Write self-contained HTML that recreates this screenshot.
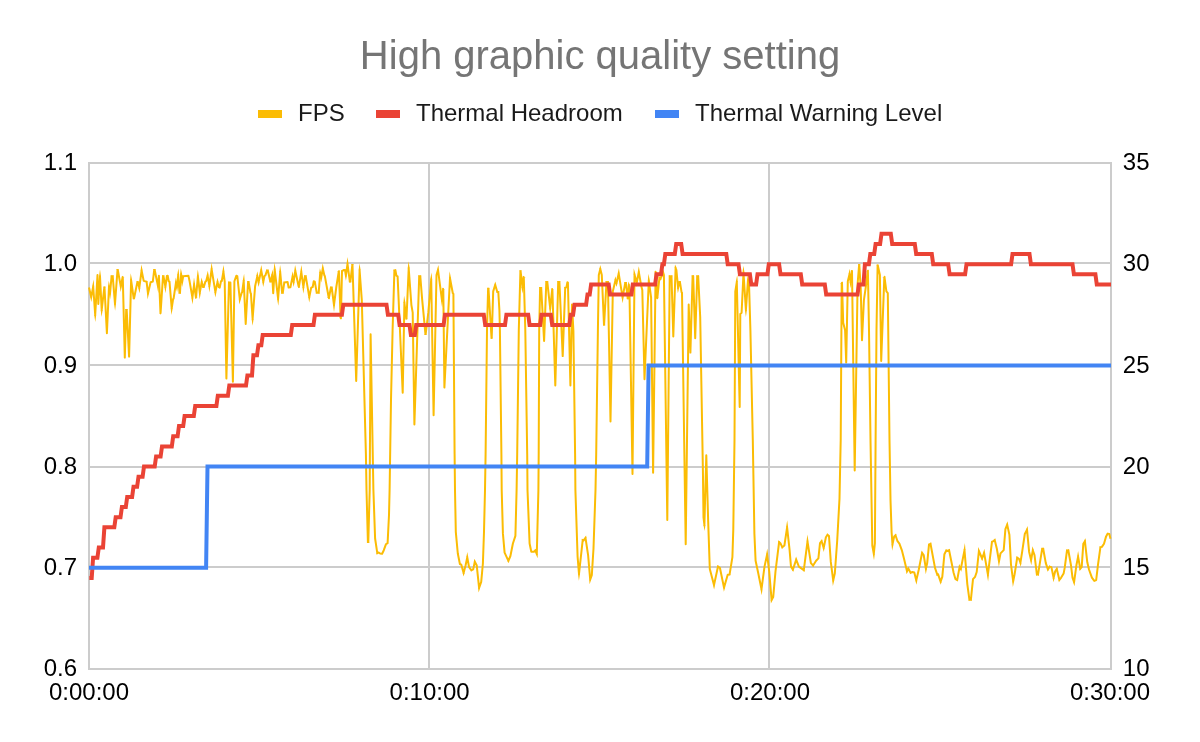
<!DOCTYPE html>
<html><head><meta charset="utf-8"><title>High graphic quality setting</title>
<style>
html,body{margin:0;padding:0;background:#ffffff;}
body{width:1200px;height:742px;overflow:hidden;font-family:"Liberation Sans",sans-serif;}
svg{display:block;}
text{font-family:"Liberation Sans",sans-serif;}
.t{filter:grayscale(1);}
.ax{font-size:24px;fill:#000000;}
.lg{font-size:24px;fill:#1a1a1a;}
</style></head>
<body>
<svg width="1200" height="742" viewBox="0 0 1200 742">
<rect x="0" y="0" width="1200" height="742" fill="#ffffff"/>
<g class="t">
<text x="600" y="68.8" text-anchor="middle" font-size="40" fill="#757575">High graphic quality setting</text>
<text class="lg" x="298" y="121">FPS</text>
<text class="lg" x="416" y="121">Thermal Headroom</text>
<text class="lg" x="695" y="121">Thermal Warning Level</text>
</g>
<!-- legend swatches -->
<rect x="258" y="110" width="24" height="8" fill="#fbbc04"/>
<rect x="376" y="110" width="24" height="8" fill="#ea4335"/>
<rect x="655" y="110" width="24" height="8" fill="#4285f4"/>
<!-- gridlines -->
<g fill="#cccccc" shape-rendering="crispEdges">
<rect x="88" y="162" width="1024" height="2"/>
<rect x="88" y="262" width="1024" height="2"/>
<rect x="88" y="364" width="1024" height="2"/>
<rect x="88" y="466" width="1024" height="2"/>
<rect x="88" y="566" width="1024" height="2"/>
<rect x="88" y="668" width="1024" height="2"/>
<rect x="88" y="162" width="2" height="508"/>
<rect x="428" y="162" width="2" height="508"/>
<rect x="768" y="162" width="2" height="508"/>
<rect x="1110" y="162" width="2" height="508"/>
</g>
<!-- series -->
<g fill="none" stroke-linejoin="miter" stroke-linecap="butt">
<polyline stroke="#fbbc04" stroke-width="2" stroke-linejoin="round" points="89.0,287.6 91.2,297.1 93.2,286.5 95.2,315.0 97.5,275.1 98.3,303.9 100.0,276.4 101.7,310.0 104.3,287.5 104.5,287.5 106.9,333.3 109.0,286.5 110.0,293.6 111.6,276.2 112.7,276.2 115.0,303.8 117.5,270.0 117.8,270.0 120.8,286.6 122.6,277.2 122.8,277.7 124.8,357.6 126.2,310.1 126.7,310.1 129.1,356.6 131.1,280.2 133.7,298.3 134.1,298.3 137.4,281.9 137.8,281.9 139.3,287.8 141.6,270.5 143.7,280.9 146.6,281.7 148.0,293.6 150.6,282.3 152.8,281.6 154.2,270.0 154.7,270.0 158.0,286.2 158.9,275.7 160.5,313.2 160.6,312.6 163.0,276.2 163.5,276.2 165.4,286.8 166.9,276.0 167.7,275.7 168.7,281.3 169.5,281.7 171.7,308.3 173.1,299.1 173.6,298.7 176.0,282.4 176.9,287.2 178.2,275.2 179.5,292.7 180.0,292.7 181.1,274.2 182.2,281.8 183.2,276.2 188.4,275.7 189.6,281.3 192.4,297.7 194.1,284.6 195.9,297.4 196.1,296.8 197.9,276.4 199.8,292.7 201.7,282.0 203.2,287.1 203.7,287.1 205.4,281.6 206.2,281.1 207.6,275.5 209.4,285.9 211.6,269.2 215.4,292.1 217.5,282.0 218.9,287.2 219.7,287.6 221.0,281.3 221.8,281.0 223.4,271.6 224.7,281.3 226.4,378.6 229.0,282.5 230.4,282.6 232.9,381.7 234.4,281.3 236.3,275.7 237.3,276.1 239.8,299.3 241.7,292.8 242.1,292.4 243.7,280.8 245.7,323.9 248.1,281.9 248.6,281.9 250.5,293.0 250.9,293.4 252.6,318.8 255.1,286.3 257.3,276.1 258.6,282.2 261.2,270.2 263.3,281.7 264.5,276.0 265.4,275.4 267.0,270.6 267.8,270.6 270.3,281.4 270.9,281.4 272.2,275.0 273.2,293.2 274.7,269.6 278.1,298.7 280.2,272.1 282.1,292.7 282.8,292.7 284.3,282.4 287.6,282.0 288.6,287.6 290.4,287.2 292.6,276.4 293.6,281.9 295.3,270.7 298.6,286.2 298.9,286.8 301.3,271.8 303.4,286.9 305.0,276.2 305.7,276.2 309.3,297.1 311.2,287.6 312.7,287.0 313.7,281.3 314.8,281.7 316.7,292.7 318.7,292.7 320.2,273.0 321.2,277.8 322.8,268.4 324.4,275.5 324.8,275.9 328.7,297.5 328.9,298.0 330.9,287.5 331.7,287.5 334.0,305.0 336.3,287.0 338.7,272.0 338.9,271.5 340.6,317.6 340.9,318.2 342.0,271.0 342.8,270.7 343.6,269.9 345.0,270.1 345.9,275.6 347.5,263.9 349.8,281.4 350.4,281.4 352.3,265.0 352.5,265.0 356.2,381.0 359.6,270.2 361.8,300.0 365.9,454.0 366.5,490.0 367.9,542.0 368.3,542.0 369.7,490.0 370.6,334.2 373.4,490.0 375.1,538.5 377.3,553.1 378.4,552.4 380.1,553.5 382.1,553.8 383.8,550.2 385.9,544.3 387.6,543.1 389.0,515.0 389.6,490.0 391.0,400.0 392.6,330.0 394.4,270.4 395.4,270.1 396.4,275.7 397.6,276.3 402.7,392.7 404.4,302.8 406.3,318.4 406.5,318.4 408.7,268.3 411.4,305.1 412.7,312.7 414.4,424.4 419.2,276.3 420.3,276.3 422.1,298.9 423.9,317.7 425.4,334.0 425.7,334.0 428.3,312.7 431.2,279.6 433.6,415.2 436.5,275.1 438.0,269.9 442.0,300.6 443.1,289.1 443.3,289.6 444.4,387.6 450.0,278.3 452.8,293.2 453.4,293.9 454.6,454.0 455.0,490.0 455.8,531.8 457.8,553.5 459.9,564.0 461.3,564.7 463.6,572.9 465.6,565.2 467.3,557.3 469.0,566.9 471.3,570.3 473.2,569.4 474.8,561.7 476.7,565.2 479.1,587.9 481.2,581.9 482.9,563.5 484.0,531.8 485.0,490.0 485.6,454.0 487.0,330.0 488.1,288.8 488.5,288.8 491.5,337.8 491.7,337.7 493.2,291.4 495.2,284.8 497.3,292.0 498.3,292.0 499.4,310.2 499.9,330.0 501.4,454.0 501.7,490.0 502.9,533.4 504.6,552.7 508.4,560.8 510.4,556.0 512.9,543.5 515.4,535.9 516.6,490.0 517.2,454.0 518.8,330.0 520.4,271.2 520.6,271.2 522.4,287.0 523.6,277.2 523.8,277.7 525.3,330.0 527.2,454.0 527.5,490.0 529.6,543.5 531.3,551.8 533.8,551.8 535.3,550.4 536.8,554.0 538.4,490.0 538.7,454.0 539.2,330.0 540.1,287.9 541.2,287.9 544.1,340.9 546.3,281.9 547.3,281.9 550.2,308.3 552.2,289.3 552.4,289.8 555.3,385.4 558.2,281.9 559.4,281.9 562.7,356.1 565.2,287.7 566.4,287.4 567.4,282.3 567.9,282.6 570.4,385.4 572.0,304.5 573.4,330.8 575.1,454.0 575.4,490.0 577.6,556.8 579.0,573.8 582.7,540.1 583.6,540.4 585.5,537.9 588.1,555.2 590.2,579.6 591.8,575.2 593.5,548.5 595.5,490.0 596.2,454.0 597.9,330.0 598.8,275.1 600.3,269.1 601.8,275.1 604.0,324.6 604.1,324.6 606.5,281.9 607.9,281.9 610.5,421.4 612.8,291.4 615.5,280.1 616.5,283.2 618.7,273.4 621.0,287.6 622.6,297.4 625.2,283.1 625.9,283.1 627.7,298.3 628.0,298.3 628.8,285.1 629.4,287.6 632.5,474.1 634.5,274.5 636.8,282.5 638.8,271.9 641.3,286.3 642.3,290.1 644.5,379.3 648.8,280.7 650.1,290.1 651.1,297.6 653.1,472.8 655.6,272.1 655.9,272.6 657.3,298.0 657.4,297.5 659.4,277.9 660.5,278.9 662.0,275.1 663.1,272.4 663.9,275.1 667.3,520.0 669.7,276.3 671.5,276.3 673.3,336.5 675.6,268.0 676.4,270.1 678.1,287.9 679.3,281.9 679.9,281.9 681.6,292.4 682.0,292.8 685.7,544.3 688.7,304.5 690.4,352.6 692.6,276.3 693.2,276.3 695.2,338.3 697.2,276.3 698.2,276.3 700.2,317.0 702.9,470.0 703.5,517.4 704.4,524.9 706.3,455.2 708.2,522.1 709.8,569.0 714.0,585.1 718.0,566.5 719.9,567.8 724.0,587.6 727.7,574.8 729.6,574.4 732.4,557.2 733.3,529.1 734.5,440.0 735.3,291.4 736.8,282.0 739.7,406.9 740.3,313.9 741.6,312.7 743.5,272.7 745.9,310.0 748.0,279.9 749.1,286.3 750.4,330.0 752.8,440.0 754.4,533.8 755.6,560.8 758.1,572.5 761.5,589.2 764.5,566.6 767.1,554.4 769.2,571.3 771.6,600.0 773.2,597.1 775.5,571.3 779.1,542.1 780.4,543.2 782.3,547.3 784.4,545.5 787.1,527.3 789.6,550.2 791.0,566.6 792.9,569.6 796.2,559.6 798.9,566.6 803.8,570.1 807.5,541.4 810.9,563.1 813.1,565.5 816.1,560.8 818.4,558.4 820.0,543.2 821.6,541.2 823.7,547.9 825.9,537.3 827.5,534.8 829.0,536.1 830.8,561.9 833.2,580.4 834.8,573.6 837.2,540.8 839.5,498.6 840.7,440.0 841.7,283.5 842.0,282.9 843.2,322.7 845.1,330.2 846.2,362.6 847.8,281.3 849.5,274.2 850.6,282.0 851.8,271.2 852.0,271.3 854.7,470.5 857.6,283.8 859.1,265.0 859.3,265.0 860.7,287.6 862.0,340.2 863.9,300.1 865.7,287.6 867.7,271.4 867.9,270.9 869.0,330.0 870.5,440.0 872.3,545.5 873.8,553.8 874.9,543.2 875.6,440.0 876.5,330.0 877.6,265.6 877.8,265.5 879.9,275.0 881.2,360.9 884.3,277.7 884.5,277.2 886.4,291.4 887.8,293.2 889.5,440.0 890.5,500.0 891.6,532.3 892.5,544.4 894.2,536.4 895.5,535.2 897.5,541.2 899.4,543.7 901.8,550.1 903.9,558.2 907.0,571.3 908.3,568.6 910.6,572.8 912.3,572.0 914.3,572.5 916.3,580.4 918.8,569.5 922.1,552.8 923.7,555.0 925.9,568.9 927.2,563.1 929.0,544.5 930.5,543.8 935.0,567.9 937.3,574.7 938.2,574.6 940.6,581.6 942.3,576.8 944.4,554.2 946.3,550.5 947.6,551.0 949.1,550.2 953.6,572.8 955.5,579.2 957.2,580.0 959.6,566.9 960.8,569.0 964.5,550.1 967.3,584.1 969.4,599.7 970.9,599.7 973.0,579.2 975.1,576.8 976.7,572.0 978.9,551.0 982.1,558.5 984.1,552.8 987.9,574.7 992.0,541.6 993.2,541.2 994.7,540.0 996.8,548.5 999.0,561.3 1000.5,553.4 1003.7,550.1 1005.4,529.1 1007.2,524.6 1009.4,534.8 1011.0,564.7 1013.2,581.3 1014.6,574.4 1017.2,557.7 1019.1,559.0 1020.4,562.8 1022.3,550.9 1024.8,534.0 1027.0,529.6 1029.1,551.7 1031.1,560.2 1032.8,550.3 1034.5,555.0 1036.9,574.6 1038.0,574.6 1042.2,548.7 1043.2,548.7 1045.8,563.1 1047.9,569.4 1049.7,566.6 1051.4,567.1 1053.6,577.7 1055.2,571.2 1056.8,568.9 1059.4,579.9 1061.2,577.6 1063.6,573.6 1064.7,567.9 1067.0,550.4 1068.3,550.3 1070.9,564.7 1072.5,577.6 1074.1,582.1 1076.5,564.7 1078.1,556.6 1080.2,568.7 1081.7,567.1 1083.3,543.7 1084.9,541.2 1087.3,562.3 1089.0,569.5 1091.9,577.6 1094.3,580.9 1096.2,580.0 1098.0,564.7 1100.4,547.3 1101.9,546.9 1104.0,543.7 1106.1,536.4 1107.7,533.6 1109.3,534.0 1110.5,538.8"/>
<path d="M90.2,297.3L91.3,302.0L92.2,297.2L91.2,297.1Z M92.2,286.3L93.6,279.5L94.2,286.4L93.2,286.5Z M94.2,315.1L95.3,322.0L96.2,315.1L95.2,315.0Z M99.0,276.4L100.0,269.5L101.0,276.4L100.0,276.4Z M100.7,310.1L101.5,317.0L102.7,310.1L101.7,310.0Z M103.3,287.4L103.4,286.5L104.3,286.5L104.3,287.5Z M104.5,286.5L105.5,286.5L105.5,287.5L104.5,287.5Z M108.0,286.5L108.8,280.7L110.0,286.4L109.0,286.5Z M109.0,293.8L110.1,299.5L111.0,293.7L110.0,293.6Z M110.6,276.2L110.7,275.2L111.6,275.2L111.6,276.2Z M112.7,275.2L113.6,275.2L113.7,276.2L112.7,276.2Z M114.0,303.8L115.1,310.8L116.0,303.8L115.0,303.8Z M116.5,269.9L116.5,269.0L117.5,269.0L117.5,270.0Z M117.7,269.0L118.6,269.0L118.7,269.8L117.8,270.0Z M119.8,286.8L120.7,292.0L121.7,286.8L120.8,286.6Z M121.7,277.0L122.5,275.7L123.6,276.9L122.6,277.2Z M123.7,277.4L124.8,277.4L123.8,277.7L122.8,277.7Z M125.2,310.1L125.2,309.1L126.2,309.1L126.2,310.1Z M126.7,309.1L127.6,309.1L127.7,310.0L126.7,310.1Z M130.1,280.2L130.7,273.2L132.1,280.1L131.1,280.2Z M132.7,298.5L132.9,299.3L133.7,299.3L133.7,298.3Z M134.1,299.3L134.9,299.3L135.0,298.5L134.1,298.3Z M136.5,281.7L136.6,280.9L137.4,280.9L137.4,281.9Z M137.8,280.9L138.6,280.9L138.8,281.6L137.8,281.9Z M138.3,288.1L139.5,293.2L140.3,288.0L139.3,287.8Z M140.6,270.4L141.4,264.4L142.6,270.3L141.6,270.5Z M146.8,280.8L147.5,280.9L147.6,281.6L146.6,281.7Z M147.0,293.7L147.6,299.5L148.9,293.8L148.0,293.6Z M153.2,269.9L153.3,269.0L154.2,269.0L154.2,270.0Z M154.7,269.0L155.6,269.0L155.7,269.8L154.7,270.0Z M157.0,286.4L158.3,293.2L159.0,286.3L158.0,286.2Z M159.5,313.2L160.5,314.6L161.5,313.3L160.5,313.2Z M161.6,312.7L162.5,312.8L161.6,312.7L160.6,312.6Z M162.0,276.2L162.0,275.3L163.0,275.2L163.0,276.2Z M163.5,275.2L164.3,275.2L164.5,276.1L163.5,276.2Z M164.4,287.0L165.5,293.2L166.3,287.0L165.4,286.8Z M170.7,308.4L171.4,315.1L172.7,308.5L171.7,308.3Z M175.0,282.2L175.8,277.6L176.9,282.2L176.0,282.4Z M175.9,287.4L177.1,292.0L177.9,287.3L176.9,287.2Z M177.2,275.1L178.4,268.2L179.2,275.1L178.2,275.2Z M178.5,292.7L178.6,293.7L179.5,293.7L179.5,292.7Z M180.0,293.7L180.9,293.7L181.0,292.7L180.0,292.7Z M180.1,274.2L180.8,268.2L182.1,274.1L181.1,274.2Z M181.2,281.9L182.1,286.9L183.2,282.0L182.2,281.8Z M182.2,276.0L182.3,275.2L183.1,275.2L183.2,276.2Z M191.4,297.8L192.5,304.5L193.4,297.8L192.4,297.7Z M193.1,284.5L194.0,277.6L195.1,284.4L194.1,284.6Z M194.9,297.5L195.7,298.9L196.8,297.8L195.9,297.4Z M197.0,297.2L198.1,297.4L197.1,296.9L196.1,296.8Z M196.9,276.4L197.8,269.5L198.9,276.3L197.9,276.4Z M198.8,292.8L199.6,299.5L200.8,292.9L199.8,292.7Z M200.8,281.8L201.5,277.6L202.7,281.7L201.7,282.0Z M202.2,287.4L202.4,288.1L203.2,288.1L203.2,287.1Z M203.7,288.1L204.4,288.1L204.6,287.4L203.7,287.1Z M206.7,275.3L207.8,270.7L208.6,275.3L207.6,275.5Z M208.4,286.1L209.4,292.6L210.3,286.1L209.4,285.9Z M210.7,269.1L211.6,262.6L212.6,269.1L211.6,269.2Z M214.4,292.3L215.3,297.6L216.4,292.4L215.4,292.1Z M216.6,281.8L217.4,277.6L218.5,281.8L217.5,282.0Z M222.4,271.5L223.5,265.1L224.4,271.5L223.4,271.6Z M228.0,282.5L228.1,281.5L229.1,281.5L229.0,282.5Z M238.8,299.4L239.3,304.5L240.8,299.6L239.8,299.3Z M242.7,280.7L244.1,273.8L244.7,280.8L243.7,280.8Z M247.1,281.8L247.1,280.9L248.1,280.9L248.1,281.9Z M248.6,280.9L249.4,280.9L249.6,281.7L248.6,281.9Z M251.6,318.9L252.6,325.8L253.6,318.9L252.6,318.8Z M256.3,275.9L257.3,271.3L258.3,275.9L257.3,276.1Z M257.6,282.4L258.6,286.9L259.6,282.4L258.6,282.2Z M260.3,270.0L261.3,265.1L262.2,270.0L261.2,270.2Z M262.3,281.9L263.2,286.9L264.3,281.9L263.3,281.7Z M266.0,270.3L266.2,269.6L267.0,269.6L267.0,270.6Z M267.8,269.6L268.6,269.6L268.8,270.4L267.8,270.6Z M269.3,281.6L269.5,282.4L270.3,282.4L270.3,281.4Z M270.9,282.4L271.7,282.4L271.9,281.6L270.9,281.4Z M271.3,274.8L272.7,269.5L273.2,274.9L272.2,275.0Z M273.7,269.5L274.5,262.6L275.7,269.4L274.7,269.6Z M277.1,298.9L278.3,305.7L279.1,298.8L278.1,298.7Z M279.2,272.0L280.1,265.1L281.2,272.0L280.2,272.1Z M281.1,292.8L281.2,293.7L282.1,293.7L282.1,292.7Z M282.8,293.7L283.6,293.7L283.8,292.8L282.8,292.7Z M283.4,282.3L283.5,281.5L284.2,281.4L284.3,282.4Z M291.6,276.2L292.7,271.3L293.6,276.2L292.6,276.4Z M292.6,282.0L293.7,286.9L294.6,282.0L293.6,281.9Z M294.3,270.5L295.1,265.1L296.3,270.5L295.3,270.7Z M297.6,286.5L296.7,286.8L297.7,286.6L298.6,286.2Z M297.9,287.2L299.0,288.2L299.8,287.0L298.9,286.8Z M300.3,271.6L301.4,265.1L302.3,271.6L301.3,271.8Z M302.4,287.0L303.3,293.8L304.4,287.0L303.4,286.9Z M304.0,276.1L304.2,275.2L305.0,275.2L305.0,276.2Z M305.7,275.2L306.6,275.2L306.7,276.1L305.7,276.2Z M308.3,297.3L309.2,302.6L310.3,297.3L309.3,297.1Z M315.7,292.9L315.8,293.7L316.7,293.7L316.7,292.7Z M318.7,293.7L319.6,293.7L319.7,292.8L318.7,292.7Z M319.2,272.9L319.9,268.2L321.2,272.8L320.2,273.0Z M320.2,278.0L321.2,282.6L322.2,277.9L321.2,277.8Z M321.8,268.2L322.7,263.2L323.8,268.2L322.8,268.4Z M327.7,297.6L326.7,298.1L327.8,297.9L328.7,297.5Z M328.0,298.4L329.1,299.5L329.9,298.2L328.9,298.0Z M330.0,287.3L330.1,286.5L330.9,286.5L330.9,287.5Z M331.7,286.5L332.5,286.5L332.6,287.4L331.7,287.5Z M333.0,305.1L334.0,312.0L335.0,305.1L334.0,305.0Z M337.7,271.9L336.8,271.5L337.8,271.6L338.7,272.0Z M338.0,271.1L339.2,270.0L339.9,271.5L338.9,271.5Z M339.6,317.7L338.7,318.2L339.7,318.1L340.6,317.6Z M340.0,318.6L341.2,319.6L341.9,318.2L340.9,318.2Z M344.9,275.7L345.9,280.7L346.9,275.7L345.9,275.6Z M346.5,263.8L347.5,256.9L348.5,263.8L347.5,263.9Z M348.8,281.5L348.9,282.4L349.8,282.4L349.8,281.4Z M350.4,282.4L351.3,282.4L351.4,281.5L350.4,281.4Z M351.3,264.9L351.4,264.0L352.3,264.0L352.3,265.0Z M352.5,264.0L353.5,264.0L353.5,264.9L352.5,265.0Z M358.6,270.2L359.5,263.2L360.6,270.1L359.6,270.2Z M366.9,542.1L366.9,543.0L367.9,543.0L367.9,542.0Z M368.3,543.0L369.3,543.0L369.3,542.1L368.3,542.0Z M376.3,553.3L376.6,554.8L377.9,554.0L377.3,553.1Z M393.4,270.4L393.4,269.7L394.0,269.5L394.4,270.4Z M403.4,302.7L404.1,295.8L405.4,302.6L404.4,302.8Z M405.3,318.5L405.4,319.4L406.3,319.4L406.3,318.4Z M406.5,319.4L407.4,319.3L407.5,318.4L406.5,318.4Z M407.7,268.3L408.6,261.3L409.7,268.2L408.7,268.3Z M418.2,276.2L418.3,275.3L419.2,275.3L419.2,276.3Z M420.3,275.3L421.2,275.2L421.3,276.2L420.3,276.3Z M424.4,334.1L424.5,335.0L425.4,335.0L425.4,334.0Z M425.7,335.0L426.6,335.0L426.7,334.2L425.7,334.0Z M430.2,279.5L431.5,272.6L432.2,279.6L431.2,279.6Z M437.0,269.6L438.4,265.1L439.0,269.7L438.0,269.9Z M441.0,300.8L442.1,307.6L443.0,300.7L442.0,300.6Z M442.1,289.0L442.9,287.6L444.0,288.7L443.1,289.1Z M444.2,289.3L445.3,289.2L444.3,289.6L443.3,289.6Z M449.0,278.3L449.6,271.3L451.0,278.1L450.0,278.3Z M462.6,573.2L463.6,576.6L464.6,573.1L463.6,572.9Z M466.3,557.1L467.3,552.1L468.2,557.1L467.3,557.3Z M470.5,570.9L471.0,571.6L471.8,571.2L471.3,570.3Z M473.8,561.4L474.4,558.7L475.7,561.2L474.8,561.7Z M478.1,588.0L478.6,592.5L480.1,588.3L479.1,587.9Z M487.1,288.8L487.1,287.8L488.1,287.8L488.1,288.8Z M488.5,287.8L489.4,287.8L489.5,288.7L488.5,288.8Z M490.5,337.9L490.9,339.0L492.1,338.7L491.5,337.8Z M492.2,338.6L493.0,338.5L492.7,337.8L491.7,337.7Z M494.3,284.5L495.3,281.4L496.2,284.5L495.2,284.8Z M496.4,292.3L496.6,293.1L497.4,293.0L497.3,292.0Z M498.2,291.0L499.2,290.9L499.3,291.9L498.3,292.0Z M507.5,561.2L508.4,563.3L509.3,561.2L508.4,560.8Z M519.4,271.2L519.4,270.3L520.4,270.2L520.4,271.2Z M520.6,270.2L521.5,270.2L521.6,271.1L520.6,271.2Z M521.4,287.1L522.4,293.8L523.4,287.1L522.4,287.0Z M522.6,277.1L523.4,275.7L524.5,276.8L523.6,277.2Z M524.7,277.3L525.8,277.3L524.8,277.7L523.8,277.7Z M534.6,549.7L535.6,548.7L536.2,550.0L535.3,550.4Z M535.9,554.4L537.6,558.3L537.8,554.0L536.8,554.0Z M539.1,287.9L539.1,286.9L540.1,286.9L540.1,287.9Z M541.2,286.9L542.1,286.9L542.2,287.9L541.2,287.9Z M545.3,281.8L545.3,280.9L546.3,280.9L546.3,281.9Z M547.3,280.9L548.2,280.9L548.3,281.8L547.3,281.9Z M549.2,308.4L550.2,315.2L551.2,308.4L550.2,308.3Z M551.2,289.2L552.0,287.7L553.1,288.9L552.2,289.3Z M553.3,289.4L554.4,289.4L553.4,289.8L552.4,289.8Z M557.2,281.9L557.3,280.9L558.2,280.9L558.2,281.9Z M559.4,280.9L560.3,280.9L560.4,281.8L559.4,281.9Z M564.2,287.7L564.3,287.0L564.9,286.8L565.2,287.7Z M578.0,573.9L578.9,580.8L580.0,573.9L579.0,573.8Z M581.7,540.0L581.8,538.8L582.9,539.1L582.7,540.1Z M583.3,541.3L584.0,541.5L584.4,541.0L583.6,540.4Z M584.7,537.3L586.1,535.4L586.5,537.7L585.5,537.9Z M589.2,579.7L589.6,584.2L591.1,580.0L590.2,579.6Z M599.3,268.9L600.3,265.1L601.3,268.9L600.3,269.1Z M603.0,324.7L603.2,325.8L604.3,325.6L604.0,324.6Z M604.5,325.5L605.3,325.4L605.1,324.6L604.1,324.6Z M605.5,281.8L605.5,280.9L606.5,280.9L606.5,281.9Z M607.9,280.9L608.9,280.9L608.9,281.9L607.9,281.9Z M614.5,279.9L615.3,276.3L616.4,279.8L615.5,280.1Z M615.5,283.5L616.6,286.9L617.4,283.4L616.5,283.2Z M617.7,273.2L618.9,268.2L619.7,273.3L618.7,273.4Z M621.6,297.6L622.6,303.2L623.6,297.6L622.6,297.4Z M624.2,282.9L624.4,282.1L625.2,282.1L625.2,283.1Z M625.9,282.1L626.8,282.1L626.9,283.0L625.9,283.1Z M626.7,298.4L626.9,299.3L627.8,299.3L627.7,298.3Z M628.0,299.3L628.9,299.3L629.0,298.4L628.0,298.3Z M627.8,285.0L628.5,281.4L629.8,284.9L628.8,285.1Z M633.5,274.5L633.7,268.2L635.5,274.2L634.5,274.5Z M635.8,282.8L636.9,286.9L637.7,282.7L636.8,282.5Z M637.8,271.7L638.8,266.3L639.8,271.7L638.8,271.9Z M647.8,280.7L648.5,273.8L649.8,280.6L648.8,280.7Z M654.6,272.1L655.2,270.6L656.5,271.6L655.6,272.1Z M656.8,272.2L657.8,272.1L656.9,272.6L655.9,272.6Z M656.3,298.1L657.2,299.5L658.3,298.2L657.3,298.0Z M658.4,297.7L659.4,297.8L658.4,297.6L657.4,297.5Z M658.4,277.8L658.6,275.8L660.1,277.2L659.4,277.9Z M659.8,279.6L660.9,280.7L661.4,279.3L660.5,278.9Z M662.2,272.0L663.3,269.5L664.1,272.2L663.1,272.4Z M668.7,276.3L668.7,275.3L669.7,275.3L669.7,276.3Z M671.5,275.3L672.4,275.3L672.5,276.2L671.5,276.3Z M674.6,268.0L675.0,264.4L676.6,267.6L675.6,268.0Z M677.1,288.0L677.9,293.2L679.1,288.1L678.1,287.9Z M678.4,281.7L678.5,280.9L679.3,280.9L679.3,281.9Z M679.9,280.9L680.8,280.9L680.9,281.7L679.9,281.9Z M691.6,276.2L691.6,275.3L692.6,275.3L692.6,276.3Z M693.1,275.3L694.1,275.3L694.1,276.2L693.2,276.3Z M696.3,276.2L696.3,275.3L697.2,275.3L697.2,276.3Z M698.2,275.3L699.1,275.3L699.2,276.2L698.2,276.3Z M703.4,525.0L704.7,530.9L705.4,524.9L704.4,524.9Z M713.0,585.4L714.1,589.5L715.0,585.4L714.0,585.1Z M717.0,566.3L717.4,564.9L718.6,565.7L718.0,566.5Z M723.1,587.8L723.9,591.8L725.0,587.9L724.0,587.6Z M729.8,575.4L730.4,575.2L730.6,574.6L729.6,574.4Z M735.8,281.8L737.2,275.1L737.8,282.0L736.8,282.0Z M742.5,272.6L743.4,265.7L744.5,272.6L743.5,272.7Z M744.9,310.1L745.9,317.0L746.9,310.1L745.9,310.0Z M747.0,279.8L747.8,274.4L749.0,279.7L748.0,279.9Z M760.5,589.4L761.7,595.3L762.5,589.4L761.5,589.2Z M766.1,554.2L767.3,548.4L768.1,554.3L767.1,554.4Z M770.6,600.1L770.9,603.5L772.5,600.5L771.6,600.0Z M778.1,542.0L778.3,540.3L779.7,541.3L779.1,542.1Z M781.4,547.7L781.9,548.9L782.9,548.1L782.3,547.3Z M786.1,527.1L787.2,520.3L788.1,527.2L787.1,527.3Z M792.0,570.1L793.2,571.9L793.8,569.9L792.9,569.6Z M795.2,559.3L796.1,556.6L797.1,559.2L796.2,559.6Z M803.2,570.9L804.6,571.9L804.8,570.2L803.8,570.1Z M806.5,541.2L807.4,534.4L808.5,541.2L807.5,541.4Z M812.4,566.2L813.3,567.2L814.0,566.1L813.1,565.5Z M820.8,540.6L822.0,539.1L822.6,540.9L821.6,541.2Z M822.7,548.2L823.8,552.0L824.6,548.1L823.7,547.9Z M826.6,534.2L827.2,533.2L828.1,534.0L827.5,534.8Z M832.2,580.5L832.9,586.0L834.2,580.6L833.2,580.4Z M840.7,283.5L839.9,283.0L840.8,283.0L841.7,283.5Z M841.2,282.4L842.4,281.6L843.0,282.9L842.0,282.9Z M848.5,274.0L849.7,268.8L850.5,274.1L849.5,274.2Z M849.6,282.2L850.7,288.2L851.6,282.1L850.6,282.0Z M850.8,271.1L851.1,270.1L852.0,270.2L851.8,271.2Z M852.2,270.3L853.1,270.4L853.0,271.3L852.0,271.3Z M858.1,264.9L858.2,264.0L859.1,264.0L859.1,265.0Z M859.3,264.0L860.3,264.0L860.3,264.9L859.3,265.0Z M866.7,271.3L865.8,270.9L866.7,271.0L867.7,271.4Z M867.0,270.5L868.2,269.4L868.9,270.8L867.9,270.9Z M872.8,554.0L874.0,560.2L874.8,553.9L873.8,553.8Z M876.6,265.5L876.5,264.6L877.5,264.6L877.6,265.6Z M877.7,264.5L878.5,264.5L878.7,265.3L877.8,265.5Z M883.3,277.7L882.3,277.3L883.4,277.3L884.3,277.7Z M883.6,276.8L884.7,275.6L885.5,277.1L884.5,277.2Z M891.5,544.5L892.1,550.7L893.5,544.7L892.5,544.4Z M894.8,534.5L896.0,533.4L896.5,534.9L895.5,535.2Z M906.0,571.5L906.6,574.2L907.9,571.8L907.0,571.3Z M907.4,568.2L908.3,566.5L909.2,568.2L908.3,568.6Z M909.8,573.3L910.2,574.2L911.1,573.7L910.6,572.8Z M915.4,580.7L916.4,584.7L917.3,580.7L916.3,580.4Z M921.2,552.6L921.6,550.4L922.9,552.2L922.1,552.8Z M924.9,569.1L925.8,574.2L926.9,569.1L925.9,568.9Z M930.0,542.9L931.2,542.3L931.5,543.6L930.5,543.8Z M936.3,575.0L936.6,575.7L937.4,575.7L937.3,574.7Z M938.1,573.6L938.9,573.6L939.1,574.3L938.2,574.6Z M939.7,582.0L940.7,584.7L941.6,582.0L940.6,581.6Z M945.4,550.0L945.8,549.3L946.6,549.5L946.3,550.5Z M948.7,549.3L949.8,548.8L950.1,550.0L949.1,550.2Z M956.8,580.9L957.9,581.4L958.1,580.2L957.2,580.0Z M958.6,566.7L959.1,564.1L960.5,566.4L959.6,566.9Z M960.0,569.5L961.3,571.8L961.8,569.2L960.8,569.0Z M963.6,549.9L964.9,543.1L965.5,550.0L964.5,550.1Z M968.4,599.9L968.6,600.7L969.4,600.7L969.4,599.7Z M970.9,600.7L971.8,600.7L971.9,599.8L970.9,599.7Z M977.9,550.9L978.2,547.1L979.8,550.6L978.9,551.0Z M981.2,558.9L982.2,561.2L983.1,558.8L982.1,558.5Z M983.1,552.4L984.4,548.7L985.0,552.6L984.1,552.8Z M986.9,574.9L988.1,581.5L988.9,574.9L987.9,574.7Z M994.1,539.2L995.3,538.2L995.7,539.8L994.7,540.0Z M998.0,561.5L998.9,566.9L999.9,561.5L999.0,561.3Z M1006.3,524.2L1007.5,521.2L1008.2,524.4L1007.2,524.6Z M1012.2,581.5L1012.9,587.1L1014.1,581.5L1013.2,581.3Z M1016.2,557.6L1016.4,556.0L1017.7,556.9L1017.2,557.7Z M1019.5,563.1L1020.8,566.9L1021.4,563.0L1020.4,562.8Z M1026.1,529.2L1027.6,526.1L1028.0,529.5L1027.0,529.6Z M1030.1,560.5L1031.3,565.3L1032.1,560.4L1031.1,560.2Z M1031.8,550.1L1032.5,546.3L1033.8,549.9L1032.8,550.3Z M1035.9,574.8L1036.0,575.6L1036.9,575.6L1036.9,574.6Z M1038.0,575.6L1038.9,575.7L1039.0,574.8L1038.0,574.6Z M1041.2,548.6L1041.4,547.7L1042.2,547.7L1042.2,548.7Z M1043.2,547.7L1044.1,547.7L1044.2,548.6L1043.2,548.7Z M1047.0,569.8L1047.7,571.7L1048.8,570.0L1047.9,569.4Z M1048.9,566.1L1049.3,565.4L1050.0,565.6L1049.7,566.6Z M1052.6,577.9L1053.5,582.3L1054.6,577.9L1053.6,577.7Z M1055.9,568.3L1057.2,566.5L1057.7,568.7L1056.8,568.9Z M1058.4,580.2L1058.9,582.2L1060.2,580.5L1059.4,579.9Z M1066.0,550.2L1066.1,549.4L1067.0,549.4L1067.0,550.4Z M1068.3,549.3L1069.1,549.3L1069.3,550.2L1068.3,550.3Z M1073.1,582.4L1074.5,586.3L1075.0,582.2L1074.1,582.1Z M1077.1,556.4L1078.1,551.1L1079.1,556.5L1078.1,556.6Z M1079.2,568.9L1079.6,570.9L1081.0,569.4L1080.2,568.7Z M1084.0,540.6L1085.5,538.2L1085.9,541.0L1084.9,541.2Z M1099.4,547.2L1099.5,546.5L1100.2,546.3L1100.4,547.3Z" fill="#fbbc04" stroke="none"/>
<polyline stroke="#ea4335" stroke-width="4" points="89.3,577.9 91.7,577.9 93.1,557.7 97.4,557.7 98.8,547.6 103.0,547.6 104.4,527.3 114.3,527.3 115.7,517.2 120.5,517.2 121.9,507.1 125.8,507.1 127.2,497.0 132.1,497.0 133.5,486.8 137.1,486.8 138.5,476.7 142.6,476.7 144.0,466.6 154.7,466.6 156.1,456.5 160.6,456.5 162.0,446.4 171.8,446.4 173.2,436.2 177.6,436.2 179.0,426.1 183.2,426.1 184.6,416.0 193.8,416.0 195.2,405.9 216.4,405.9 217.8,395.8 227.9,395.8 229.3,385.6 246.0,385.6 247.4,375.5 252.0,375.5 253.4,355.3 257.0,355.3 258.4,345.2 261.3,345.2 262.7,335.0 290.8,335.0 292.2,324.9 313.5,324.9 314.9,314.8 341.9,314.8 343.3,304.7 386.5,304.7 387.9,314.8 398.2,314.8 399.6,324.9 409.5,324.9 410.9,335.0 414.8,335.0 416.2,324.9 443.6,324.9 445.0,314.8 483.8,314.8 485.2,324.9 505.0,324.9 506.4,314.8 528.2,314.8 529.6,324.9 540.1,324.9 541.5,314.8 550.8,314.8 552.2,324.9 569.3,324.9 570.7,314.8 573.1,314.8 574.5,304.7 586.1,304.7 587.5,294.6 589.7,294.6 591.1,284.4 608.7,284.4 610.1,294.6 631.4,294.6 632.8,284.4 655.1,284.4 656.5,274.3 661.0,274.3 662.4,264.2 663.9,264.2 665.3,254.1 674.8,254.1 676.2,244.0 681.2,244.0 682.6,254.1 726.3,254.1 727.7,264.2 738.5,264.2 739.9,274.3 749.9,274.3 751.3,284.4 756.1,284.4 757.5,274.3 767.4,274.3 768.8,264.2 779.1,264.2 780.5,274.3 800.8,274.3 802.2,284.4 824.8,284.4 826.2,294.6 857.5,294.6 858.9,284.4 863.5,284.4 864.9,264.2 868.9,264.2 870.3,254.1 874.2,254.1 875.6,244.0 880.1,244.0 881.5,233.8 890.8,233.8 892.2,244.0 914.8,244.0 916.2,254.1 931.8,254.1 933.2,264.2 948.2,264.2 949.6,274.3 965.1,274.3 966.5,264.2 1011.1,264.2 1012.5,254.1 1029.5,254.1 1030.9,264.2 1072.5,264.2 1073.9,274.3 1095.4,274.3 1096.8,284.4 1111.0,284.4"/>
<polyline stroke="#4285f4" stroke-width="4" points="89.0,567.8 206.1,567.8 207.5,466.6 647.2,466.6 648.6,365.4 1111.0,365.4"/>
</g>
<g class="t">
<!-- left axis -->
<g class="ax" text-anchor="end">
<text x="77" y="170">1.1</text>
<text x="77" y="271">1.0</text>
<text x="77" y="373">0.9</text>
<text x="77" y="474">0.8</text>
<text x="77" y="575">0.7</text>
<text x="77" y="675.8">0.6</text>
</g>
<!-- right axis -->
<g class="ax" text-anchor="start">
<text x="1122.8" y="170">35</text>
<text x="1122.8" y="271">30</text>
<text x="1122.8" y="373">25</text>
<text x="1122.8" y="474">20</text>
<text x="1122.8" y="575">15</text>
<text x="1122.8" y="675.8">10</text>
</g>
<!-- x axis -->
<g class="ax" text-anchor="middle">
<text x="89" y="700">0:00:00</text>
<text x="429.6" y="700">0:10:00</text>
<text x="770" y="700">0:20:00</text>
<text x="1110" y="700">0:30:00</text>
</g>
</g>
</svg>
</body></html>
